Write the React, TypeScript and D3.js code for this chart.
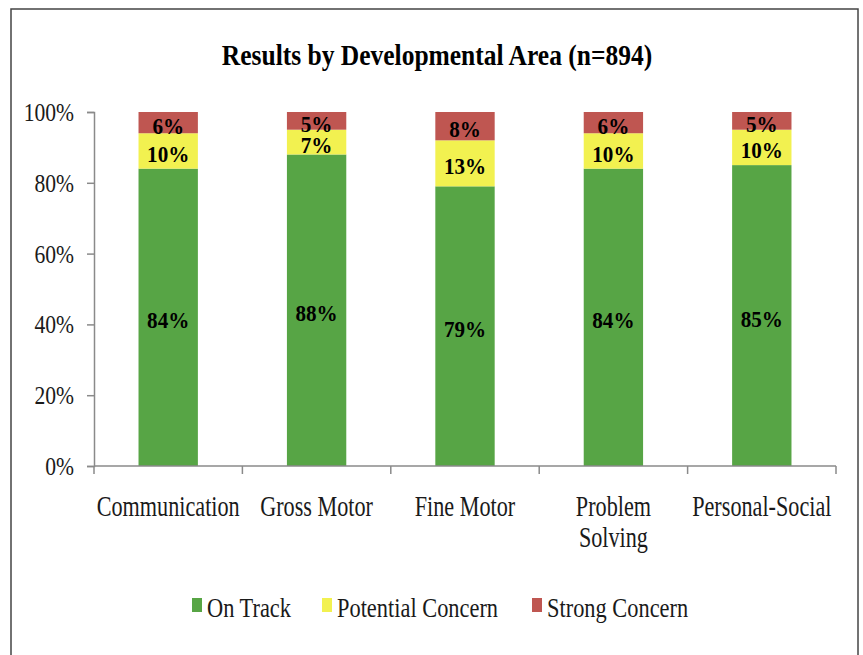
import { useEffect, useRef } from 'react';
import * as d3 from 'd3';

const categories = ['Communication', 'Gross Motor', 'Fine Motor', 'Problem Solving', 'Personal-Social'];
const seriesNames = ['On Track', 'Potential Concern', 'Strong Concern'];
const onTrack = [84, 88, 79, 84, 85];
const potentialConcern = [10, 7, 13, 10, 10];
const strongConcern = [6, 5, 8, 6, 5];
const yTicks = [0, 20, 40, 60, 80, 100];

const COLORS = ['#57a545', '#f2f150', '#bf5651'];
const FONT = '"Liberation Serif", serif';
const W = 863;
const H = 655;
const MARGIN = { top: 112, right: 27, bottom: 189, left: 94 };

export default function App() {
  const svgRef = useRef<SVGSVGElement>(null);

  useEffect(() => {
    if (!svgRef.current) return;
    const svg = d3.select(svgRef.current);
    svg.selectAll('*').remove();

    const innerW = W - MARGIN.left - MARGIN.right;
    const innerH = H - MARGIN.top - MARGIN.bottom;

    svg.append('rect').attr('width', W).attr('height', H).attr('fill', '#fff');
    // outer frame
    svg.append('rect')
      .attr('x', 11).attr('y', 9).attr('width', 847).attr('height', 660)
      .attr('fill', 'none').attr('stroke', '#444').attr('stroke-width', 1.5);

    // the source font is narrow, so text gets squeezed horizontally
    svg.append('text')
      .attr('transform', 'translate(437,65) scale(0.85,1)')
      .attr('text-anchor', 'middle')
      .attr('font-family', FONT).attr('font-weight', 'bold').attr('font-size', 30)
      .attr('fill', '#000')
      .text('Results by Developmental Area (n=894)');

    const rows = categories.map((c, i) => ({
      cat: c,
      'On Track': onTrack[i],
      'Potential Concern': potentialConcern[i],
      'Strong Concern': strongConcern[i],
    }));
    const stacked = d3.stack<any>().keys(seriesNames)(rows);

    const x = d3.scaleBand<string>().domain(categories).range([0, innerW]).paddingInner(0.6).paddingOuter(0.3);
    const xTicks = d3.scaleBand<string>().domain(categories).range([0, innerW]);
    const y = d3.scaleLinear().domain([0, 100]).range([innerH, 0]);

    const g = svg.append('g').attr('transform', `translate(${MARGIN.left},${MARGIN.top})`);

    // y axis
    const yAxis = g.append('g').call(
      d3.axisLeft(y).tickValues(yTicks).tickSize(7).tickPadding(13).tickFormat((d) => `${d}%`)
    );
    yAxis.select('.domain').attr('stroke', '#8a8a8a').attr('stroke-width', 1.5);
    yAxis.selectAll('line').attr('stroke', '#8a8a8a').attr('stroke-width', 1.5);
    yAxis.selectAll<SVGTextElement, number>('text')
      .attr('font-family', FONT).attr('font-size', 26).attr('fill', '#1a1a1a')
      .attr('dy', '0.33em')
      .attr('transform', function () {
        const tx = +d3.select(this).attr('x');
        return `translate(${tx},0) scale(0.83,1) translate(${-tx},0)`;
      });

    // bars
    g.selectAll('.series')
      .data(stacked)
      .join('g')
      .attr('class', 'series')
      .attr('fill', (_d, i) => COLORS[i])
      .selectAll('rect')
      .data((d) => d)
      .join('rect')
      .attr('x', (d) => x(d.data.cat) ?? 0)
      .attr('y', (d) => y(d[1]))
      .attr('width', x.bandwidth())
      .attr('height', (d) => y(d[0]) - y(d[1]));

    // data labels
    stacked.forEach((s) => {
      s.forEach((d) => {
        const cx = (x(d.data.cat) ?? 0) + x.bandwidth() / 2;
        const cy = (y(d[0]) + y(d[1])) / 2;
        g.append('text')
          .attr('transform', `translate(${cx},${cy + 11}) scale(0.88,1)`)
          .attr('text-anchor', 'middle')
          .attr('font-family', FONT).attr('font-weight', 'bold').attr('font-size', 24)
          .attr('fill', '#000')
          .text(`${d[1] - d[0]}%`);
      });
    });

    // x axis
    const xAxisG = g.append('g').attr('transform', `translate(0,${innerH})`);
    xAxisG.append('line').attr('x1', 0).attr('x2', innerW).attr('stroke', '#8a8a8a').attr('stroke-width', 1.5);
    xAxisG.selectAll('.xtick')
      .data([...categories.map((c) => xTicks(c) ?? 0), innerW])
      .join('line')
      .attr('x1', (d) => d).attr('x2', (d) => d)
      .attr('y1', 0).attr('y2', 8)
      .attr('stroke', '#8a8a8a').attr('stroke-width', 1.5);

    categories.forEach((c) => {
      const cx = (xTicks(c) ?? 0) + xTicks.bandwidth() / 2;
      const lines = c === 'Problem Solving' ? ['Problem', 'Solving'] : [c];
      lines.forEach((ln, j) => {
        xAxisG.append('text')
          .attr('transform', `translate(${cx},${50 + j * 31}) scale(0.74,1)`)
          .attr('text-anchor', 'middle')
          .attr('font-family', FONT).attr('font-size', 30).attr('fill', '#1a1a1a')
          .text(ln);
      });
    });

    // legend
    const legendX = [192, 322, 532];
    seriesNames.forEach((name, i) => {
      const lg = svg.append('g').attr('transform', `translate(${legendX[i]},617)`);
      lg.append('rect').attr('x', 0).attr('y', -19).attr('width', 10).attr('height', 14).attr('fill', COLORS[i]);
      lg.append('text')
        .attr('transform', 'translate(15,0) scale(0.8,1)')
        .attr('font-family', FONT).attr('font-size', 28).attr('fill', '#1a1a1a')
        .text(name);
    });
  }, []);

  return (
    <svg
      ref={svgRef}
      width={W}
      height={H}
      style={{ position: 'absolute', left: 0, top: 0, display: 'block' }}
    />
  );
}
